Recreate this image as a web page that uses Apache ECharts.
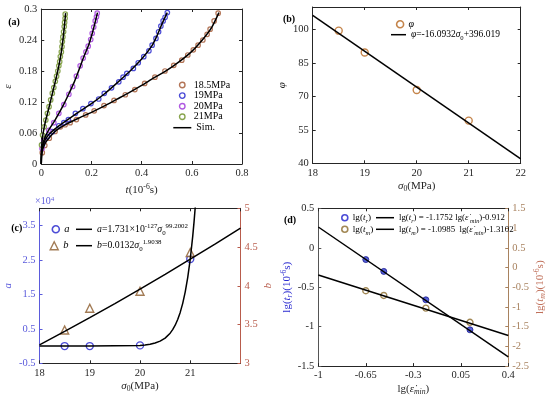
<!DOCTYPE html>
<html><head><meta charset="utf-8">
<script src="https://cdn.jsdelivr.net/npm/echarts@6/dist/echarts.min.js"></script>
<style>html,body{margin:0;padding:0;background:#fff}#c{width:550px;height:397px}</style>
</head><body><div id="c"></div>
<script>
// ---------- Panel (a): creep strain vs time ----------
const t185 = [0.004, 0.014, 0.032, 0.055, 0.076, 0.095, 0.115, 0.14, 0.177, 0.211, 0.25, 0.29, 0.335, 0.373, 0.412, 0.453, 0.493, 0.528, 0.56, 0.584, 0.606, 0.625, 0.644, 0.661, 0.673, 0.689, 0.705];
const e185 = [0.022, 0.036, 0.05, 0.063, 0.072, 0.076, 0.08, 0.086, 0.095, 0.103, 0.113, 0.123, 0.134, 0.144, 0.156, 0.168, 0.18, 0.191, 0.201, 0.211, 0.221, 0.23, 0.24, 0.251, 0.261, 0.277, 0.292];
const t19 = [0.005, 0.024, 0.044, 0.07, 0.09, 0.108, 0.136, 0.166, 0.198, 0.229, 0.251, 0.28, 0.309, 0.326, 0.341, 0.367, 0.3865, 0.4085, 0.429, 0.4418, 0.457, 0.4676, 0.4767, 0.4857, 0.4935, 0.5024];
const e19 = [0.038, 0.053, 0.0625, 0.074, 0.08, 0.086, 0.098, 0.107, 0.117, 0.1258, 0.1368, 0.1475, 0.159, 0.168, 0.1755, 0.185, 0.196, 0.2077, 0.219, 0.23, 0.243, 0.256, 0.267, 0.277, 0.284, 0.293];
const t20 = [0.003, 0.01, 0.03, 0.05, 0.07, 0.09, 0.11, 0.125, 0.14, 0.155, 0.167, 0.178, 0.187, 0.197, 0.203, 0.209, 0.215, 0.22, 0.223];
const e20 = [0.03, 0.045, 0.065, 0.08, 0.098, 0.115, 0.135, 0.15, 0.17, 0.19, 0.205, 0.217, 0.228, 0.241, 0.253, 0.265, 0.277, 0.285, 0.292];
const t21 = [0.001, 0.005, 0.0116, 0.018, 0.0244, 0.031, 0.0375, 0.044, 0.05, 0.056, 0.061, 0.066, 0.07, 0.0734, 0.076, 0.08, 0.0825, 0.084, 0.086, 0.089, 0.0915, 0.093, 0.095, 0.0955];
const e21 = [0.037, 0.056, 0.072, 0.085, 0.098, 0.111, 0.124, 0.137, 0.148, 0.16, 0.17, 0.18, 0.19, 0.198, 0.208, 0.217, 0.227, 0.237, 0.246, 0.256, 0.266, 0.274, 0.282, 0.29];
// simulated curves
const simT185 = [0, 0.001, 0.005, 0.015, 0.03, 0.06, 0.1, 0.15, 0.2, 0.25, 0.3, 0.35, 0.4, 0.45, 0.5, 0.55, 0.6, 0.65, 0.68, 0.708];
const simE185 = [0, 0.015, 0.027, 0.04, 0.05, 0.065, 0.077, 0.089, 0.1, 0.112, 0.125, 0.138, 0.152, 0.167, 0.181, 0.198, 0.218, 0.245, 0.265, 0.293];
const simT19 = [0, 0.001, 0.005, 0.015, 0.03, 0.06, 0.1, 0.15, 0.2, 0.25, 0.3, 0.35, 0.4, 0.44, 0.46, 0.48, 0.502];
const simE19 = [0, 0.017, 0.033, 0.046, 0.057, 0.07, 0.084, 0.101, 0.117, 0.135, 0.156, 0.178, 0.203, 0.228, 0.247, 0.27, 0.293];
const simT20 = [0, 0.001, 0.005, 0.015, 0.03, 0.05, 0.07, 0.09, 0.11, 0.13, 0.15, 0.17, 0.19, 0.205, 0.215, 0.224];
const simE20 = [0, 0.02, 0.036, 0.052, 0.066, 0.081, 0.098, 0.116, 0.136, 0.157, 0.182, 0.208, 0.232, 0.256, 0.275, 0.293];
const simT21 = [0, 0.001, 0.005, 0.012, 0.02, 0.03, 0.04, 0.05, 0.06, 0.07, 0.08, 0.087, 0.092, 0.097];
const simE21 = [0, 0.03, 0.052, 0.072, 0.089, 0.108, 0.128, 0.148, 0.168, 0.19, 0.217, 0.243, 0.266, 0.292];

// ---------- Panel (b): phi vs sigma0 ----------
const sigB = [18.5, 19, 20, 21];
const phiB = [99.4, 89.6, 72.8, 59.1];
const sigBFit = [18, 22];
const phiBFit = [106.3, 42.0];
const bYTicks = [40, 55, 70, 85, 100];

// ---------- Panel (c): a, b vs sigma0 ----------
const sigC = [18.5, 19, 20, 21];
const aC = [0, 0, 200, 25300];
const bC = [3.43, 3.71, 3.93, 4.43];
const sigCFitA = [18, 19, 20, 20.1, 20.2, 20.3, 20.4, 20.5, 20.6, 20.65, 20.7, 20.75, 20.8, 20.85, 20.9, 20.95, 21, 21.05, 21.075, 21.1];
const aCFit = [0, 0, 200, 328, 536, 875, 1424, 2315, 3746, 4770, 6060, 7700, 9775, 12410, 15750, 19950, 25270, 32000, 36000, 40500];
const sigCFitB = [18, 18.5, 19, 19.5, 20, 20.5, 21, 21.5, 22];
const bCFit = [3.238, 3.412, 3.589, 3.771, 3.957, 4.148, 4.343, 4.542, 4.745];
const cLeftTicks = [-5000, 5000, 15000, 25000, 35000];

// ---------- Panel (d): lg(t) vs lg(strain rate) ----------
const lgE = [-0.65, -0.5175, -0.2075, 0.1175];
const lgTr = [-0.15, -0.30, -0.66, -1.04];
const lgTm = [-0.59, -0.71, -1.03, -1.39];
const lgEFit = [-1, 0.4];
const lgTrFit = [0.263, -1.382];
const lgTmFit = [-0.19, -1.725];
const dXTicks = [-1, -0.65, -0.3, 0.05, 0.4];

const zip = (a, b) => a.map((v, i) => [v, b[i]]);
const F = '"Liberation Serif","Times New Roman",serif';
const K = '#262626';

function richSet(fs, color) {
  return {
    n: {fontFamily: F, fontSize: fs, lineHeight: 14, color: color},
    it: {fontFamily: F, fontSize: fs, lineHeight: 14, fontStyle: 'italic', color: color},
    sub: {fontFamily: F, fontSize: fs * 0.7, verticalAlign: 'bottom', color: color},
    subi: {fontFamily: F, fontSize: fs * 0.7, verticalAlign: 'bottom', fontStyle: 'italic', color: color},
    sup: {fontFamily: F, fontSize: fs * 0.7, verticalAlign: 'top', color: color}
  };
}

function axis(o) {
  const c = o.color || K;
  const lc = o.labelColor || c;
  const base = {
    type: 'value', gridIndex: o.grid, min: o.min, max: o.max, position: o.position,
    splitLine: {show: false},
    axisLine: {show: true, onZero: false, lineStyle: {color: c, width: 1}},
    axisTick: {show: true, inside: true, length: 3, lineStyle: {color: c}},
    axisLabel: {show: o.labels !== false, fontFamily: F, fontSize: 10.5, color: lc, margin: 4, showMaxLabel: o.showMax !== false},
    name: o.name || '', nameLocation: 'middle', nameGap: o.nameGap || 0,
    nameTextStyle: {fontFamily: F, fontSize: 11, color: o.nameColor || K, lineHeight: 14, rich: richSet(11, o.nameColor || K)}
  };
  if (o.interval !== undefined) base.interval = o.interval;
  if (o.ticks) {
    base.axisTick.customValues = o.ticks;
    base.axisLabel.customValues = o.ticks;
  }
  if (o.formatter) base.axisLabel.formatter = o.formatter;
  return base;
}

const cA = '#a0522d', cB = '#1f1fcc', cP = '#9b30d9', cG = '#6b8e23';
const cCL = '#5b5bdc', cCR = '#b85c4c', cDR = '#a8825f';

function ring(name, data, color, xi, yi, size, sym, bw) {
  return {type: 'scatter', name: name, data: data, xAxisIndex: xi, yAxisIndex: yi, symbol: sym || 'circle', symbolSize: size,
    itemStyle: {color: '#fff', borderColor: color, borderWidth: bw || 1.4}, z: 5};
}
function line(name, data, xi, yi, smooth) {
  return {type: 'line', name: name, data: data, xAxisIndex: xi, yAxisIndex: yi, symbol: 'none', showSymbol: false,
    smooth: smooth || false, lineStyle: {color: '#000', width: 1.5}, itemStyle: {color: '#000'}, z: 6};
}

const NAMES = {
  'phi': '{it|φ}',
  'phiFit': '{it|φ}{n|=-16.0932}{it|σ}{sub|0}{n|+396.019}',
  'a': '{it|a}',
  'aFit': '{it|a}{n|=1.731×10}{sup|-127}{it|σ}{sub|0}{sup|99.2002}',
  'b': '{it|b}',
  'bFit': '{it|b}{n|=0.0132}{it|σ}{sub|0}{sup|1.9038}',
  'tr': '{n|lg(}{it|t}{subi|r}{n|)}',
  'trFit': '{n|lg(}{it|t}{subi|r}{n|) = -1.1752 lg(}{it|ε̇}{subi| min}{n|)-0.912}',
  'tm': '{n|lg(}{it|t}{subi|m}{n|)}',
  'tmFit': '{n|lg(}{it|t}{subi|m}{n|) = -1.0985  lg(}{it|ε̇}{subi| min}{n|)-1.3102}'
};
function lg(names, left, top, iw, fs, extra) {
  return Object.assign({
    data: names, left: left, top: top, orient: 'vertical', padding: 0, itemGap: 0,
    itemWidth: iw, itemHeight: 7, selectedMode: false,
    formatter: n => NAMES[n] || n,
    textStyle: {fontFamily: F, fontSize: fs, color: '#000', lineHeight: 14, rich: richSet(fs, '#000')}
  }, extra || {});
}
function lgLine(name, left, top, iw, fs, extra) {
  return lg([{name: name, icon: 'rect', itemStyle: {color: '#000', borderWidth: 0}}], left, top, iw, fs,
    Object.assign({itemHeight: 1.5}, extra || {}));
}

const option = {
  animation: false,
  backgroundColor: '#fff',
  grid: [
    {left: 35, top: 9, width: 207, height: 155},
    {left: 312.7, top: 7, width: 208, height: 156.3},
    {left: 35, top: 208.3, width: 205.5, height: 155},
    {left: 318.3, top: 208.3, width: 190, height: 160.7}
  ],
  xAxis: [
    axis({grid: 0, min: 0, max: 0.8, interval: 0.2, position: 'bottom', name: '{it|t}{n|(10}{sup|-6}{n|s)}', nameGap: 19}),
    axis({grid: 0, min: 0, max: 0.8, interval: 0.2, position: 'top', labels: false}),
    axis({grid: 1, min: 18, max: 22, interval: 1, position: 'bottom', name: '{it|σ}{sub|0}{n|(MPa)}', nameGap: 12}),
    axis({grid: 1, min: 18, max: 22, interval: 1, position: 'top', labels: false}),
    axis({grid: 2, min: 18, max: 22, interval: 1, position: 'bottom', showMax: false, name: '{it|σ}{sub|0}{n|(MPa)}', nameGap: 15}),
    axis({grid: 2, min: 18, max: 22, interval: 1, position: 'top', labels: false}),
    axis({grid: 3, min: -1, max: 0.4, ticks: dXTicks, position: 'bottom', name: '{n|lg(}{it|ε̇}{subi|min}{n|)}', nameGap: 11}),
    axis({grid: 3, min: -1, max: 0.4, ticks: dXTicks, position: 'top', labels: false})
  ],
  yAxis: [
    axis({grid: 0, min: 0, max: 0.3, interval: 0.06, position: 'left', name: '{it|ε}', nameGap: 19}),
    axis({grid: 0, min: 0, max: 0.3, interval: 0.06, position: 'right', labels: false}),
    axis({grid: 1, min: 40, max: 110, ticks: bYTicks, position: 'left', name: '{it|φ}', nameGap: 17}),
    axis({grid: 1, min: 40, max: 110, ticks: bYTicks, position: 'right', labels: false}),
    axis({grid: 2, min: -5000, max: 40000, ticks: cLeftTicks, position: 'left', color: cCL, nameColor: cCL,
      formatter: v => String(+(v / 10000).toFixed(1)), name: '{it|a}', nameGap: 16}),
    axis({grid: 2, min: 3, max: 5, interval: 0.5, position: 'right', color: cCR, nameColor: cCR, name: '{it|b}', nameGap: 19}),
    axis({grid: 3, min: -1.5, max: 0.5, interval: 0.5, position: 'left', color: '#555', labelColor: K, nameColor: '#2a2ad0',
      name: '{n|lg(}{it|t}{subi|r}{n|)(10}{sup|-6}{n|s)}', nameGap: 23}),
    axis({grid: 3, min: -2.5, max: 1.5, interval: 0.5, position: 'right', color: cDR, nameColor: '#c0705a',
      name: '{n|lg(}{it|t}{subi|m}{n|)(10}{sup|-6}{n|s)}', nameGap: 24})
  ],
  legend: [
    lg(['18.5MPa', '19MPa', '20MPa', '21MPa'], 178.8, 79.7, 7, 10, {
      itemHeight: 5.5,
      textStyle: {fontFamily: F, fontSize: 10, color: '#000', lineHeight: 10.6, padding: [0, 0, 0, 3]},
      data: [
        {name: '18.5MPa', itemStyle: {color: '#fff', borderColor: cA, borderWidth: 1.4}},
        {name: '19MPa', itemStyle: {color: '#fff', borderColor: cB, borderWidth: 1.4}},
        {name: '20MPa', itemStyle: {color: '#fff', borderColor: cP, borderWidth: 1.4}},
        {name: '21MPa', itemStyle: {color: '#fff', borderColor: cG, borderWidth: 1.4}}
      ]}),
    lgLine('Sim.', 173.3, 122.4, 18, 10, {textStyle: {fontFamily: F, fontSize: 10, color: '#000', lineHeight: 10.6}}),
    lg([{name: 'phi', itemStyle: {color: '#fff', borderColor: '#b5651d', borderWidth: 1.6}}], 395.8, 17.3, 7, 10),
    lgLine('phiFit', 391, 27.7, 15, 9.5),
    lg([{name: 'a', itemStyle: {color: '#fff', borderColor: cB, borderWidth: 1.6}}], 51.5, 222.3, 7, 10.5),
    lgLine('aFit', 76, 222.3, 16, 9.8),
    lg([{name: 'b', itemStyle: {color: '#fff', borderColor: '#8b5a2b', borderWidth: 1.4}}], 49.5, 238.7, 8, 10.5, {itemHeight: 8}),
    lgLine('bFit', 76, 238.7, 16, 9.8),
    lg([{name: 'tr', itemStyle: {color: '#fff', borderColor: cB, borderWidth: 1.6}}], 341, 210.7, 6, 9.2, {itemHeight: 6}),
    lgLine('trFit', 376, 210.7, 18, 8.8),
    lg([{name: 'tm', itemStyle: {color: '#fff', borderColor: '#8b6a2b', borderWidth: 1.6}}], 341, 222.3, 6, 9.2, {itemHeight: 6}),
    lgLine('tmFit', 376, 222.3, 18, 8.8)
  ],
  graphic: [
    {type: 'text', x: 14, y: 22, style: {text: '(a)', font: 'bold 10px "Liberation Serif"', fill: '#000', align: 'center', verticalAlign: 'middle'}},
    {type: 'text', x: 289, y: 19, style: {text: '(b)', font: 'bold 10px "Liberation Serif"', fill: '#000', align: 'center', verticalAlign: 'middle'}},
    {type: 'text', x: 16.7, y: 228.3, style: {text: '(c)', font: 'bold 10px "Liberation Serif"', fill: '#000', align: 'center', verticalAlign: 'middle'}},
    {type: 'text', x: 290, y: 220, style: {text: '(d)', font: 'bold 10px "Liberation Serif"', fill: '#000', align: 'center', verticalAlign: 'middle'}},
    {type: 'text', x: 35, y: 201.5, style: {text: '{n|×10}{s|4}', align: 'left', verticalAlign: 'middle',
      rich: {n: {fontFamily: F, fontSize: 10, lineHeight: 12, fill: cCL, color: cCL}, s: {fontFamily: F, fontSize: 7, verticalAlign: 'top', fill: cCL, color: cCL}}}}
  ],
  series: [
    ring('18.5MPa', zip(t185, e185), cA, 0, 0, 4.5, null, 1.2),
    ring('19MPa', zip(t19, e19), cB, 0, 0, 4.5, null, 1.2),
    ring('20MPa', zip(t20, e20), cP, 0, 0, 4.5, null, 1.2),
    ring('21MPa', zip(t21, e21), cG, 0, 0, 4.5, null, 1.2),
    line('Sim.', zip(simT185, simE185), 0, 0, 0.25),
    line('Sim.', zip(simT19, simE19), 0, 0, 0.25),
    line('Sim.', zip(simT20, simE20), 0, 0, 0.25),
    line('Sim.', zip(simT21, simE21), 0, 0, 0.25),

    ring('phi', zip(sigB, phiB), '#b5651d', 2, 2, 7),
    line('phiFit', zip(sigBFit, phiBFit), 2, 2),

    ring('a', zip(sigC, aC), cB, 4, 4, 7),
    ring('b', zip(sigC, bC), '#8b5a2b', 4, 5, 8, 'triangle'),
    line('aFit', zip(sigCFitA, aCFit), 4, 4),
    line('bFit', zip(sigCFitB, bCFit), 4, 5),

    {type: 'scatter', name: 'tr', data: zip(lgE, lgTr), xAxisIndex: 6, yAxisIndex: 6, symbolSize: 6,
      itemStyle: {color: '#2a3ad0', borderColor: '#1a1a90', borderWidth: 1}, z: 5},
    ring('tm', zip(lgE, lgTm), '#8b6a2b', 6, 7, 6),
    line('trFit', zip(lgEFit, lgTrFit), 6, 6),
    line('tmFit', zip(lgEFit, lgTmFit), 6, 7)
  ]
};
const chart = echarts.init(document.getElementById('c'), null, {renderer: 'canvas'});
chart.setOption(option);
</script></body></html>
